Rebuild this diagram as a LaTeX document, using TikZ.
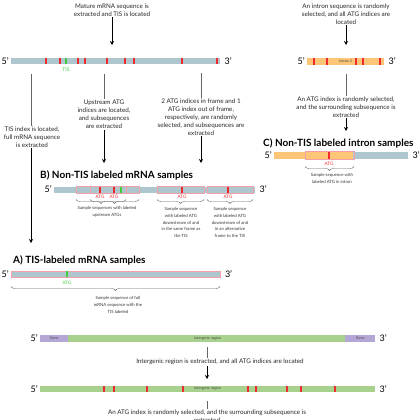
\documentclass[tikz,border=0pt]{standalone}
\usepackage{fontspec}
\setmainfont{Lato}
\usetikzlibrary{positioning, arrows.meta, calc}
\usetikzlibrary{decorations.pathreplacing}

\definecolor{seqgrey}{HTML}{AEC6CE}
\definecolor{atgred}{HTML}{EE2A2F}
\definecolor{tisgreen}{HTML}{3FCC3F}
\definecolor{boxpink}{HTML}{F4A0A8}
\definecolor{intronorange}{HTML}{FDC576}
\definecolor{intergreen}{HTML}{A9D18E}
\definecolor{genepurple}{HTML}{B4A7D6}

\begin{document}
\begin{tikzpicture}[x=1pt, y=-1pt, >=Stealth,
    bar/.style={inner sep=0pt, minimum height=6pt, anchor=west},
    sample/.style={draw=boxpink, line width=0.8pt, inner sep=0pt, minimum height=7pt, anchor=west},
    txt/.style={align=center, font=\fontsize{6.3}{7.9}\selectfont, text=black!85, inner sep=1pt},
    small/.style={align=center, font=\fontsize{4.3}{6.6}\selectfont, text=black!80, inner sep=0pt},
    tiny/.style={font=\fontsize{3.6}{4}\selectfont, text=black!75},
    title/.style={anchor=west, font=\fontsize{10}{12}\selectfont\bfseries, inner sep=0pt},
    prime/.style={font=\fontsize{9}{10}\selectfont, inner sep=1pt},
    atglbl/.style={font=\fontsize{4.6}{5}\selectfont, text=atgred, inner sep=0pt},
    atg/.style={atgred, line width=2pt},
    tis/.style={tisgreen, line width=2pt},
    link/.style={black!60, line width=0.6pt},
    flow/.style={-{Stealth[length=4pt, width=4pt]}, line width=0.8pt},
    brc/.style={decorate, decoration={brace, mirror, amplitude=4pt}, black!60, line width=0.4pt}]
    \useasboundingbox (0,0) rectangle (420,420);

    % Mature mRNA
    \node[txt] (mature) at (112,10) {Mature mRNA sequence is\\extracted and TIS is located};
    \coordinate (matureend) at (112,45);
    \draw[flow] (mature.south) -- (matureend);
    \node[bar, fill=seqgrey, minimum width=209pt] (mrna) at (11,61) {};
    \node[prime, left=1pt of mrna] (mrna5) {5’};
    \node[prime, right=3pt of mrna] (mrna3) {3’};
    \foreach \t in {46,60,78,85,107,125,134,182,217}
        \draw[atg] (\t,58) -- (\t,64);
    \draw[tis] (66,58) -- (66,64);
    \node[font=\fontsize{5}{6}\selectfont, text=tisgreen] (tislbl) at (66,70) {TIS};

    % Three ways out of the mRNA
    \coordinate (cutfull) at (31,74);
    \node[txt] (fulltxt) at (32,137) {TIS index is located,\\full mRNA sequence\\is extracted};
    \draw[link] (cutfull) -- (cutfull |- fulltxt.north);
    \coordinate (fullend) at (31,243);
    \draw[flow] (cutfull |- fulltxt.south) -- (fullend);

    \coordinate (cutup) at (104,74);
    \node[txt] (uptxt) at (104,114.5) {Upstream ATG\\indices are located,\\and subsequences\\are extracted};
    \draw[link] (cutup) -- (cutup |- uptxt.north);
    \coordinate (upend) at (104,163);
    \draw[flow] (cutup |- uptxt.south) -- (upend);

    \coordinate (cutdown) at (201,73);
    \node[txt] (downtxt) at (201,117) {2 ATG indices in frame and 1\\ATG index out of frame,\\respectively, are randomly\\selected, and subsequences are\\extracted};
    \draw[link] (cutdown) -- (cutdown |- downtxt.north);
    \coordinate (downend) at (201,163);
    \draw[flow] (cutdown |- downtxt.south) -- (downend);

    % B) samples
    \node[title] (titleB) at (40,175) {B) Non-TIS labeled mRNA samples};
    \node[bar, fill=seqgrey, minimum width=201pt] (mrnaB) at (54,189.5) {};
    \node[prime, left=1pt of mrnaB] (mrnaB5) {5’};
    \node[prime, right=3pt of mrnaB] (mrnaB3) {3’};
    \node[sample, minimum width=50pt] (upA) at (76,189.5) {};
    \node[sample, minimum width=49pt] (upB) at (90,189.5) {};
    \node[sample, minimum width=47pt] (inframe) at (157,189.5) {};
    \node[sample, minimum width=46pt] (outframe) at (207,189.5) {};
    \foreach \t in {100,114,182,228}
        \draw[atg] (\t,186.5) -- (\t,192.5);
    \draw[tis] (121,186.5) -- (121,192.5);
    \foreach \t in {100,114,182,228}
        \node[atglbl] at (\t,196.5) {ATG};
    \draw[brc] (76,199.5) -- (126,199.5);
    \draw[brc] (90,199.5) -- (139,199.5);
    \draw[brc] (157,199.5) -- (204,199.5);
    \draw[brc] (207,199.5) -- (253,199.5);
    \node[small] (uptxtB) at (107,211.5) {Sample sequences with labeled\\upstream ATGs};
    \node[small] (inframetxt) at (181,222.5) {Sample sequence\\with labeled ATG\\downstream of and\\in the same frame as\\the TIS};
    \node[small] (outframetxt) at (230,222.5) {Sample sequence\\with labeled ATG\\downstream of and\\in an alternative\\frame to the TIS};

    % Intron
    \node[txt] (introntxt) at (346,14) {An intron sequence is randomly\\selected, and all ATG indices are\\located};
    \coordinate (intronend) at (346,45);
    \draw[flow] (introntxt.south) -- (intronend);
    \node[bar, fill=intronorange, minimum width=77pt, minimum height=7pt] (intron) at (307,61.5) {};
    \node[tiny] (intronlbl) at (intron.center) {Intron 3};
    \node[prime, left=1pt of intron] (intron5) {5’};
    \node[prime, right=3pt of intron] (intron3) {3’};
    \foreach \t in {314,327,356,363,380}
        \draw[atg] (\t,58) -- (\t,65);
    \coordinate (cutintron) at (346,74);
    \node[txt] (picktxt) at (346,107) {An ATG index is randomly selected,\\and the surrounding subsequence is\\extracted};
    \draw[link] (cutintron) -- (cutintron |- picktxt.north);
    \coordinate (pickend) at (346,131);
    \draw[flow] (cutintron |- picktxt.south) -- (pickend);

    % C) samples
    \node[title] (titleC) at (263,143) {C) Non-TIS labeled intron samples};
    \node[bar, fill=seqgrey, minimum width=134pt, minimum height=7pt] (intronC) at (274,155.5) {};
    \node[bar, fill=intronorange, minimum width=79pt, minimum height=7pt] (intronpart) at (274,155.5) {};
    \node[prime, left=1pt of intronC] (intronC5) {5’};
    \node[prime, right=3pt of intronC] (intronC3) {3’};
    \node[sample, minimum width=49pt, minimum height=8pt] (intronsmp) at (305,155.5) {};
    \draw[atg] (329,152) -- (329,159);
    \node[atglbl] at (329,163.5) {ATG};
    \draw[brc] (305,166.5) -- (354,166.5);
    \node[small] (introntxtC) at (332,178.5) {Sample sequence with\\labeled ATG in intron};

    % A) samples
    \node[title] (titleA) at (13,260) {A) TIS-labeled mRNA samples};
    \node[bar, fill=seqgrey, draw=boxpink, line width=0.8pt, minimum width=209pt] (fullA) at (11,274) {};
    \node[prime, left=1pt of fullA] (fullA5) {5’};
    \node[prime, right=3pt of fullA] (fullA3) {3’};
    \draw[tis] (67,271) -- (67,277);
    \node[atglbl, text=tisgreen] at (67,283) {ATG};
    \draw[brc] (11,286.5) -- (220,286.5);
    \node[small] (fulltxtA) at (118,305) {Sample sequence of full\\mRNA sequence with the\\TIS labeled};

    % Intergenic region
    \node[bar, fill=intergreen, minimum width=335pt, minimum height=7pt] (genome) at (40,338.5) {};
    \node[bar, fill=genepurple, minimum width=28pt, minimum height=7pt, tiny] (geneL) at (40,338.5) {Gene};
    \node[bar, fill=genepurple, minimum width=30pt, minimum height=7pt, tiny] (geneR) at (345,338.5) {Gene};
    \node[tiny] (genomelbl) at (genome.center) {Intergenic region};
    \node[prime, left=1pt of genome] (genome5) {5’};
    \node[prime, right=3pt of genome] (genome3) {3’};
    \coordinate (cutgenome) at (207,347);
    \node[txt] (intertxt) at (220,362) {Intergenic region is extracted, and all ATG indices are located};
    \draw[link] (cutgenome) -- (cutgenome |- intertxt.north);
    \coordinate (interend) at (207,379);
    \draw[flow] (cutgenome |- intertxt.south) -- (interend);
    \node[bar, fill=intergreen, minimum width=335pt] (interg) at (40,389) {};
    \node[tiny] (interglbl) at (interg.center) {Intergenic region};
    \node[prime, left=1pt of interg] (interg5) {5’};
    \node[prime, right=3pt of interg] (interg3) {3’};
    \foreach \t in {104,114,147,183,248,256,287,301,335}
        \draw[atg] (\t,386) -- (\t,392);
    \coordinate (cutinterg) at (207,401);
    \node[txt, anchor=north] (lasttxt) at (207,408.5) {An ATG index is randomly selected, and the surrounding subsequence is\\extracted};
    \draw[link] (cutinterg) -- (cutinterg |- lasttxt.north);
\end{tikzpicture}
\end{document}
